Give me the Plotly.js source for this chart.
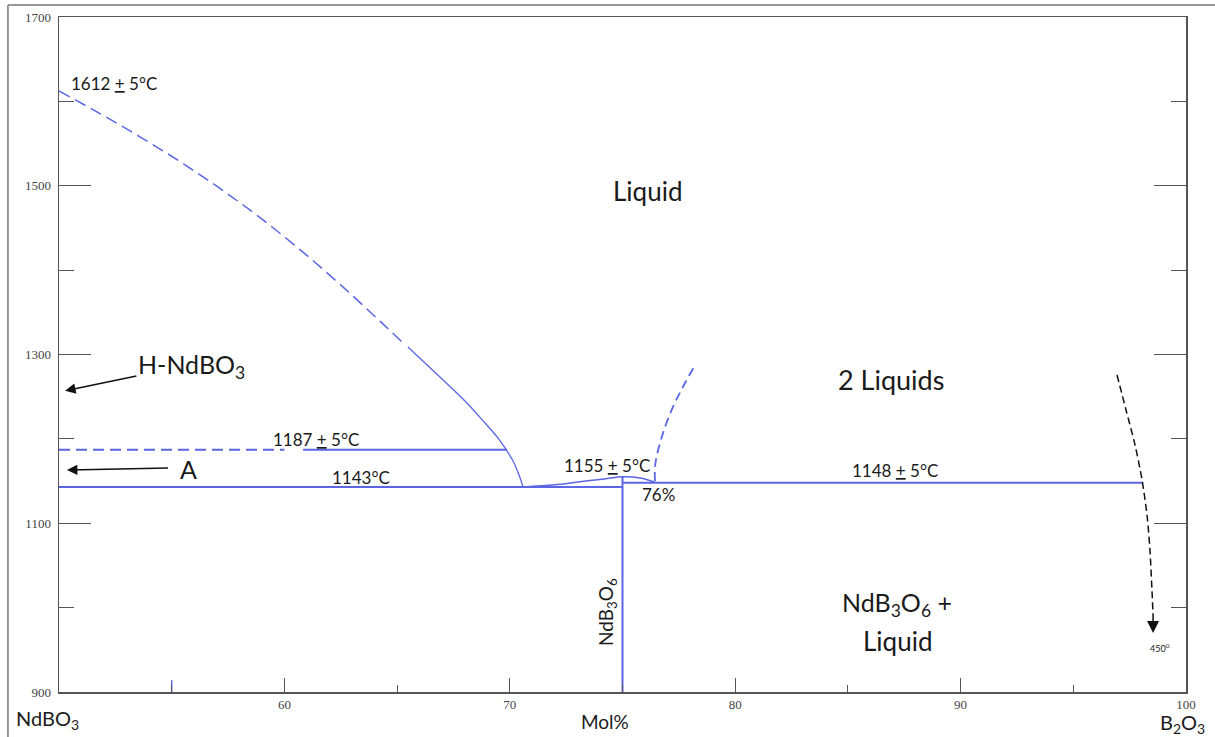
<!DOCTYPE html>
<html>
<head>
<meta charset="utf-8">
<script src="https://cdn.plot.ly/plotly-3.0.1.min.js"></script>
<style>html,body{margin:0;padding:0;background:#fff;}#chart{width:1215px;height:737px;}</style>
</head>
<body>
<div id="chart"></div>
<script>
// ---- data (x = mol% B2O3, y = temperature °C) ----
const liquidusDashX = [50.00, 51.82, 53.59, 55.37, 57.14, 58.92, 60.69, 62.47, 64.24, 65.22];
const liquidusDashY = [1612.3, 1585.5, 1558.0, 1528.6, 1496.8, 1462.2, 1424.3, 1383.1, 1339.5, 1314.9];
const liquidusSolidX = [65.48, 66.90, 68.01, 68.90, 69.48, 69.88, 70.19, 70.41, 70.59];
const liquidusSolidY = [1308.9, 1273.3, 1244.9, 1218.8, 1201.0, 1185.6, 1171.4, 1157.2, 1143];

const transDashX = [50, 60];
const transDashY = [1187, 1187];
const transSolidX = [60.83, 69.88];
const transSolidY = [1187, 1187];

const eutecticX = [50, 75];
const eutecticY = [1143, 1143];

const monotecticX = [75, 98.1];
const monotecticY = [1148, 1148];

const compoundX = [70.6, 72.0, 73.11, 74.2, 75.02, 75.78, 76.44];
const compoundY = [1143, 1145.5, 1149.2, 1152.5, 1155, 1153.6, 1148.5];

const nd3X = [75, 75];
const nd3Y = [1155, 900];

const gapX = [76.44, 76.46, 76.8, 77.24, 77.68, 78.22];
const gapY = [1150, 1171, 1207, 1237.8, 1261.5, 1287.5];

const glassX = [96.94, 97.34, 97.74, 98.05, 98.27, 98.40, 98.49, 98.54];
const glassY = [1275.7, 1234.2, 1192.7, 1151.3, 1109.8, 1068.3, 1020.9, 990];

const markX = [55, 55];
const markY = [900, 914];

const xTickVals = [60, 70, 80, 90, 100];
const yTickVals = [900, 1100, 1300, 1500, 1700];

// ---- styling ----
const BLUE = '#5a66e4';
const AX = '#555555';
const TXT = '#1a1a1a';
const FONT = 'Lato, "Open Sans", sans-serif';

function tr(x, y, opts) {
  return Object.assign({
    x: x, y: y, mode: 'lines', type: 'scatter', hoverinfo: 'skip', showlegend: false,
    line: {color: BLUE, width: 1.5}
  }, opts || {});
}

const data = [
  tr(liquidusDashX, liquidusDashY, {line: {color: BLUE, width: 1.5, dash: '12px,6px', shape: 'spline', smoothing: 1}}),
  tr(liquidusSolidX, liquidusSolidY, {line: {color: BLUE, width: 1.3, shape: 'spline', smoothing: 1}}),
  tr(transDashX, transDashY, {line: {color: BLUE, width: 2, dash: '11px,6px'}}),
  tr(transSolidX, transSolidY, {line: {color: BLUE, width: 2}}),
  tr(eutecticX, eutecticY, {line: {color: BLUE, width: 2}}),
  tr(monotecticX, monotecticY, {line: {color: BLUE, width: 2}}),
  tr(compoundX, compoundY, {line: {color: BLUE, width: 1.5, shape: 'spline'}}),
  tr(nd3X, nd3Y, {line: {color: BLUE, width: 2}}),
  tr(gapX, gapY, {line: {color: BLUE, width: 1.8, dash: '9px,5px', shape: 'spline'}}),
  tr(glassX, glassY, {line: {color: '#111', width: 1.5, dash: '7px,4px', shape: 'spline', smoothing: 0.8}}),
  tr(markX, markY, {line: {color: BLUE, width: 1.5}})
];

function ann(text, x, y, size, extra) {
  return Object.assign({
    text: text, x: x, y: y, xref: 'x', yref: 'y', showarrow: false,
    font: {family: FONT, size: size, color: TXT}, xanchor: 'center', yanchor: 'middle'
  }, extra || {});
}

const annotations = [
  ann('1612 <u>+</u> 5°C', 52.46, 1621, 17),
  ann('Liquid', 76.1, 1494, 26),
  ann('H-NdBO<sub>3</sub>', 55.9, 1286, 25),
  ann('2 Liquids', 86.9, 1270, 27),
  ann('1187 <u>+</u> 5°C', 61.4, 1199, 17),
  ann('A', 55.75, 1164, 25),
  ann('1143°C', 63.4, 1154, 17),
  ann('1155 <u>+</u> 5°C', 74.3, 1168, 17),
  ann('76%', 76.6, 1134, 17),
  ann('1148 <u>+</u> 5°C', 87.1, 1163, 17),
  ann('NdB<sub>3</sub>O<sub>6</sub> +', 87.2, 1004, 25),
  ann('Liquid', 87.2, 960, 26),
  ann('NdB<sub>3</sub>O<sub>6</sub>', 74.31, 994.8, 19, {textangle: -90}),
  ann('450<sup>0</sup>', 98.85, 952, 9),
  // arrows
  {x: 50.27, y: 1257, ax: 53.5, ay: 1275, xref: 'x', yref: 'y', axref: 'x', ayref: 'y',
   showarrow: true, arrowhead: 2, arrowsize: 1.4, arrowwidth: 1.5, arrowcolor: '#111', text: ''},
  {x: 50.35, y: 1163, ax: 54.9, ay: 1165.5, xref: 'x', yref: 'y', axref: 'x', ayref: 'y',
   showarrow: true, arrowhead: 2, arrowsize: 1.4, arrowwidth: 1.5, arrowcolor: '#111', text: ''},
  {x: 98.54, y: 970, ax: 98.54, ay: 992, xref: 'x', yref: 'y', axref: 'x', ayref: 'y',
   showarrow: true, arrowhead: 2, arrowsize: 1.6, arrowwidth: 1.5, arrowcolor: '#111', text: ''},
  // bottom labels
  {text: 'NdBO<sub>3</sub>', xref: 'paper', yref: 'paper', x: -0.0098, y: -0.04, showarrow: false,
   xanchor: 'center', yanchor: 'middle', font: {family: FONT, size: 20, color: TXT}},
  {text: 'Mol%', xref: 'paper', yref: 'paper', x: 0.4845, y: -0.043, showarrow: false,
   xanchor: 'center', yanchor: 'middle', font: {family: FONT, size: 19, color: TXT}},
  {text: 'B<sub>2</sub>O<sub>3</sub>', xref: 'paper', yref: 'paper', x: 0.9973, y: -0.046, showarrow: false,
   xanchor: 'center', yanchor: 'middle', font: {family: FONT, size: 20, color: TXT}}
];

const layout = {
  width: 1215, height: 737,
  margin: {l: 59, r: 29, t: 17, b: 45},
  paper_bgcolor: '#ffffff', plot_bgcolor: '#ffffff',
  showlegend: false,
  xaxis: {
    range: [50, 100], showgrid: false, zeroline: false,
    showline: true, linecolor: AX, linewidth: 1.5, mirror: true,
    ticks: 'inside', ticklen: 14, tickwidth: 1, tickcolor: AX,
    tickmode: 'array', tickvals: xTickVals,
    minor: {tick0: 50, dtick: 5, ticks: 'inside', ticklen: 7, tickcolor: AX, tickwidth: 1, showgrid: false},
    tickfont: {family: '"Liberation Serif", serif', size: 13, color: '#444'}
  },
  yaxis: {
    range: [900, 1700], showgrid: false, zeroline: false,
    showline: true, linecolor: AX, linewidth: 1.5, mirror: 'ticks',
    ticks: 'inside', ticklen: 32, tickwidth: 1, tickcolor: AX,
    tickmode: 'array', tickvals: yTickVals, ticklabelstandoff: 4,
    minor: {tick0: 900, dtick: 100, ticks: 'inside', ticklen: 15, tickcolor: AX, tickwidth: 1, showgrid: false},
    tickfont: {family: '"Liberation Serif", serif', size: 13, color: '#444'}
  },
  annotations: annotations,
  shapes: [
    {type: 'line', xref: 'paper', yref: 'paper', x0: -0.0453, x1: 1.03, y0: 1.0178, y1: 1.0178,
     line: {color: '#777', width: 1.5}},
    {type: 'line', xref: 'paper', yref: 'paper', x0: -0.0453, x1: -0.0453, y0: 1.0178, y1: -0.07,
     line: {color: '#777', width: 1.5}}
  ]
};

Plotly.newPlot('chart', data, layout, {staticPlot: true, displayModeBar: false});
</script>
</body>
</html>
